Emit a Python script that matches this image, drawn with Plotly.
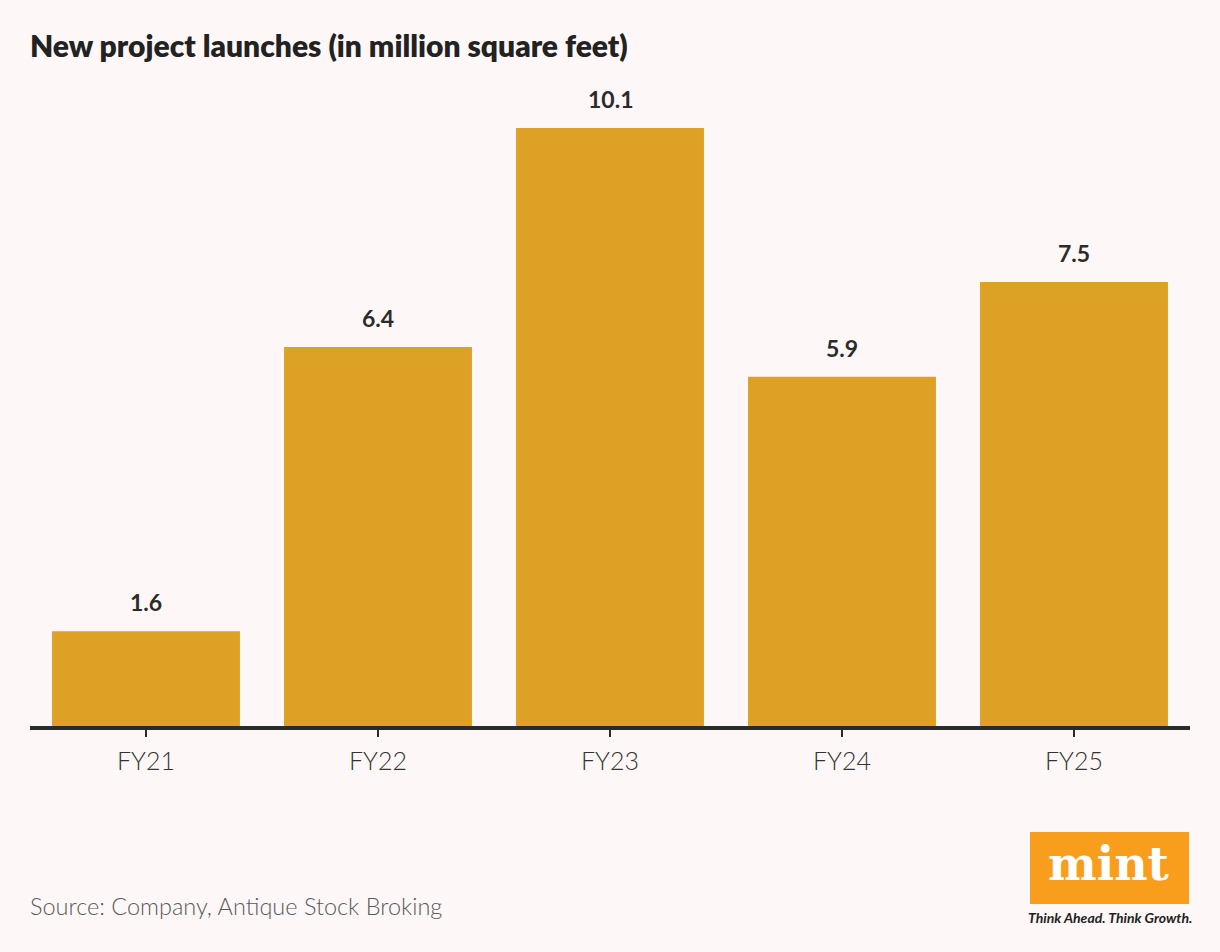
import plotly.graph_objects as go

categories = ["FY21", "FY22", "FY23", "FY24", "FY25"]
launches = [1.6, 6.4, 10.1, 5.9, 7.5]
value_labels = ["1.6", "6.4", "10.1", "5.9", "7.5"]

title_text = "New project launches (in million square feet)"
source_text = "Source: Company, Antique Stock Broking"

BG = "#fdf8f7"
BAR = "#dda126"
DARK = "#2b2b2b"

fig = go.Figure()
fig.add_trace(go.Bar(x=categories, y=launches, marker_color=BAR,
                     marker_line_width=0, hoverinfo="skip"))

for c, v, t in zip(categories, launches, value_labels):
    fig.add_annotation(x=c, y=v, text=t, showarrow=False, yanchor="middle",
                       yshift=29, font=dict(family="Lato", size=23, color=DARK, weight=700))

# title
fig.add_annotation(xref="paper", yref="paper", x=-0.002, y=(726 - 45) / 646,
                   xanchor="left", yanchor="middle", text=title_text, showarrow=False,
                   font=dict(family="Lato", size=30, color="#222222", weight=800))
# source
fig.add_annotation(xref="paper", yref="paper", x=-0.002, y=(726 - 906) / 646,
                   xanchor="left", yanchor="middle", text=source_text, showarrow=False,
                   font=dict(family="Lato", size=23.5, color="#5a5a5a", weight=300))

# mint logo
fig.add_shape(type="rect", xref="paper", yref="paper",
              x0=(1030 - 30) / 1160, x1=(1189 - 30) / 1160,
              y0=(726 - 904) / 646, y1=(726 - 832) / 646,
              fillcolor="#f99d1c", line_width=0, layer="above")
fig.add_annotation(xref="paper", yref="paper", x=(1109 - 30) / 1160, y=(726 - 864) / 646,
                   xanchor="center", yanchor="middle", text="<b>mint</b>", showarrow=False,
                   font=dict(family="DejaVu Serif", size=46, color="white", weight=900))
fig.add_annotation(xref="paper", yref="paper", x=(1110 - 30) / 1160, y=(726 - 917) / 646,
                   xanchor="center", yanchor="middle", text="<b><i>Think Ahead. Think Growth.</i></b>",
                   showarrow=False, font=dict(family="Lato", size=14, color="#222222"))

fig.update_layout(
    width=1220, height=952,
    paper_bgcolor=BG, plot_bgcolor=BG,
    margin=dict(l=30, r=30, t=80, b=226),
    bargap=0.19,
    showlegend=False,
    xaxis=dict(showline=True, linewidth=4, linecolor=DARK, ticks="outside",
               ticklen=7, tickwidth=2, tickcolor=DARK, showgrid=False,
               ticklabelstandoff=3,
               tickfont=dict(family="Lato", size=25, color="#333333", weight=300)),
    yaxis=dict(range=[0, 10.91], visible=False, showgrid=False, zeroline=False),
)

fig.write_html("out.html", config={"displayModeBar": False},
               post_script="document.body.style.margin='0';document.body.style.background='%s';" % BG)
